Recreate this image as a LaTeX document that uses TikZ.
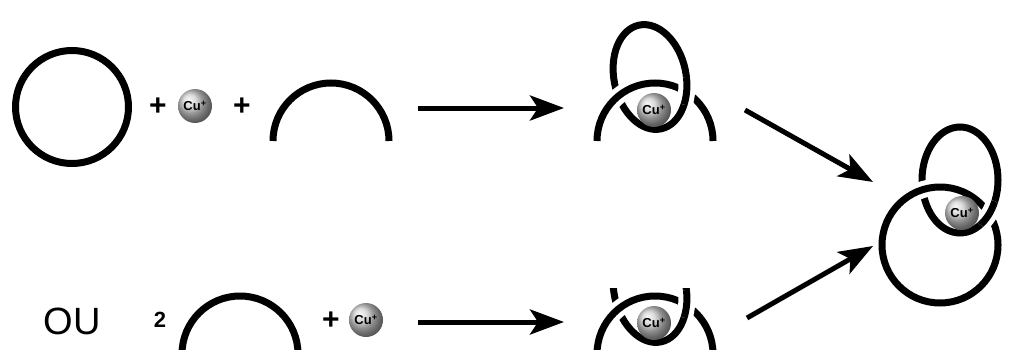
\documentclass[tikz,border=0pt]{standalone}
\usepackage{fontspec}
\setmainfont{Liberation Sans}
\usetikzlibrary{arrows.meta}

\begin{document}
\begin{tikzpicture}[x=1pt,y=1pt,
  ring/.style={line width=7pt, black},
  halo/.style={line width=17pt, white},
  cu/.style={circle, minimum size=34pt, inner sep=0pt, shade, ball color=gray!38,
    font=\bfseries\fontsize{13}{13}\selectfont},
  plus/.style={font=\bfseries\fontsize{30}{30}\selectfont},
  rxn/.style={line width=5pt, -{Stealth[length=34pt,width=25pt,inset=8pt]}},
]
\useasboundingbox (0,0) rectangle (1012,349);
\clip (0,0) rectangle (1012,349);

% ---------- first route: ring + Cu+ + open ring ----------
\draw[ring] (72,242) circle[radius=56.5];
\node[plus] (p1) at (158,242) {+};
\node[cu] (cu1) at (195,243) {Cu\textsuperscript{+}};
\node[plus] (p2) at (242,242) {+};
\draw[ring] (273,208) arc[start angle=180,end angle=0,radius=58];

\coordinate (a1s) at (418,241);
\coordinate (a1e) at (564,241);
\draw[rxn] (a1s) -- (a1e);

% threaded intermediate: tilted ring through an open ring
\draw[ring] (650,272) ellipse[x radius=36, y radius=53, rotate=12];
\begin{scope}
  \clip (618,254) circle[radius=14];
  \draw[halo] (597,208) arc[start angle=180,end angle=0,radius=58];
\end{scope}
\draw[ring] (597,208) arc[start angle=180,end angle=0,radius=58];
\begin{scope}
  \clip (687,258) circle[radius=14];
  \draw[halo] (650,272) ellipse[x radius=36, y radius=53, rotate=12];
  \draw[ring] (650,272) ellipse[x radius=36, y radius=53, rotate=12];
\end{scope}
\node[cu] (cu2) at (654,239) {Cu\textsuperscript{+}};

% ---------- second route: two open rings + Cu+ ----------
\node[font=\fontsize{38}{38}\selectfont] (ou) at (72,28) {OU};
\node[font=\bfseries\fontsize{22}{22}\selectfont] (two) at (160,29) {2};
\draw[ring] (182,-5) arc[start angle=180,end angle=0,radius=58];
\node[plus] (p3) at (331,28) {+};
\node[cu] (cu3) at (366,29) {Cu\textsuperscript{+}};

\coordinate (a2s) at (418,27);
\coordinate (a2e) at (564,27);
\draw[rxn] (a2s) -- (a2e);

% two open rings entwined round Cu+
\begin{scope}
  \clip (560,0) rectangle (740,61);
  \draw[ring] (650,59) ellipse[x radius=36, y radius=53, rotate=12];
\end{scope}
\begin{scope}
  \clip (618,41) circle[radius=14];
  \draw[halo] (597,-5) arc[start angle=180,end angle=0,radius=58];
\end{scope}
\draw[ring] (597,-5) arc[start angle=180,end angle=0,radius=58];
\begin{scope}
  \clip (687,45) circle[radius=14];
  \clip (560,0) rectangle (740,61);
  \draw[halo] (650,59) ellipse[x radius=36, y radius=53, rotate=12];
  \draw[ring] (650,59) ellipse[x radius=36, y radius=53, rotate=12];
\end{scope}
\node[cu] (cu4) at (654,26) {Cu\textsuperscript{+}};

% ---------- catenane ----------
\draw[ring] (960,169) ellipse[x radius=38, y radius=53];
\begin{scope}
  \clip (923,159) circle[radius=14];
  \draw[halo] (940,104) circle[radius=58];
\end{scope}
\draw[ring] (940,104) circle[radius=58];
\begin{scope}
  \clip (989,135) circle[radius=14];
  \draw[halo] (960,169) ellipse[x radius=38, y radius=53];
  \draw[ring] (960,169) ellipse[x radius=38, y radius=53];
\end{scope}
\node[cu] (cu5) at (962,136) {Cu\textsuperscript{+}};

\coordinate (a3s) at (745,239);
\coordinate (a3e) at (873,167);
\draw[rxn] (a3s) -- (a3e);
\coordinate (a4s) at (747,31);
\coordinate (a4e) at (873,103);
\draw[rxn] (a4s) -- (a4e);
\end{tikzpicture}
\end{document}
